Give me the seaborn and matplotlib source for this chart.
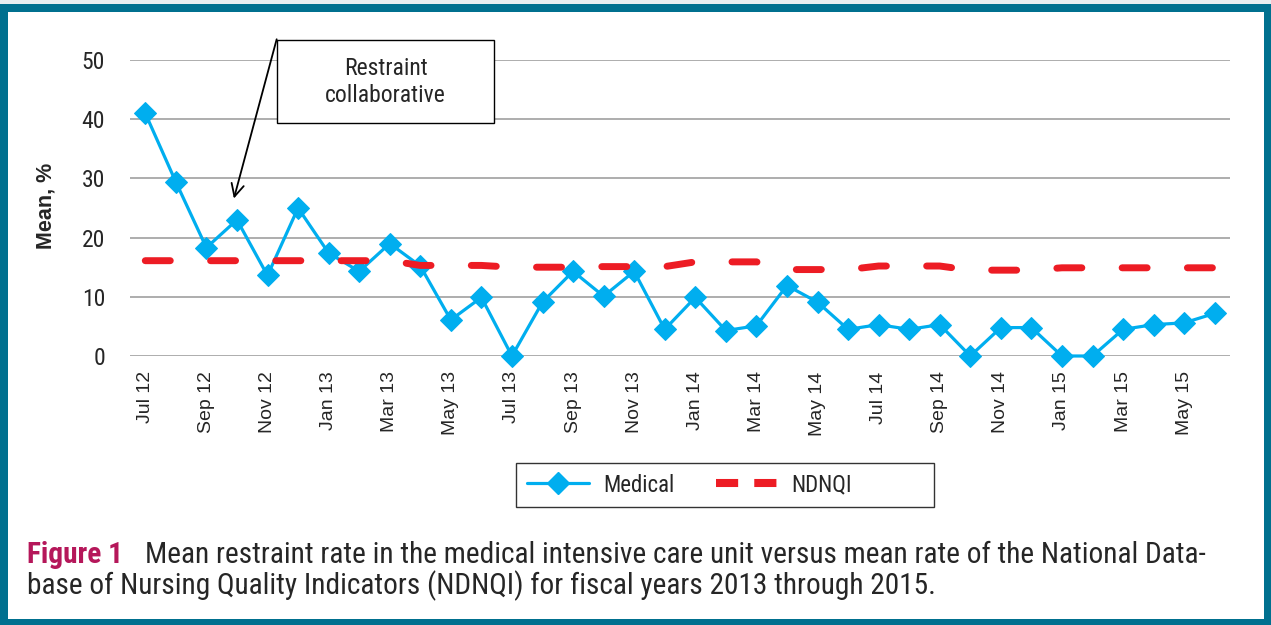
import numpy as np
import pandas as pd
import matplotlib.pyplot as plt
import matplotlib.patches as patches
from matplotlib.lines import Line2D
import seaborn as sns

# monthly data, Jul 2012 - Jun 2015
months = ['Jul 12', 'Aug 12', 'Sep 12', 'Oct 12', 'Nov 12', 'Dec 12',
          'Jan 13', 'Feb 13', 'Mar 13', 'Apr 13', 'May 13', 'Jun 13',
          'Jul 13', 'Aug 13', 'Sep 13', 'Oct 13', 'Nov 13', 'Dec 13',
          'Jan 14', 'Feb 14', 'Mar 14', 'Apr 14', 'May 14', 'Jun 14',
          'Jul 14', 'Aug 14', 'Sep 14', 'Oct 14', 'Nov 14', 'Dec 14',
          'Jan 15', 'Feb 15', 'Mar 15', 'Apr 15', 'May 15', 'Jun 15']
medical = [41.0, 29.4, 18.3, 23.0, 13.6, 25.0,
           17.4, 14.3, 19.0, 15.2, 6.1, 9.9,
           0.0, 9.1, 14.3, 10.1, 14.3, 4.5,
           9.9, 4.3, 5.1, 11.9, 9.1, 4.5,
           5.3, 4.5, 5.3, 0.0, 4.8, 4.8,
           0.0, 0.0, 4.5, 5.3, 5.6, 7.2]
ndnqi = [16.1, 16.1, 16.1, 16.1, 16.1, 16.1,
         16.1, 16.1, 16.1, 15.3, 15.3, 15.3,
         15.0, 15.0, 15.0, 15.1, 15.1, 15.1,
         15.9, 15.9, 15.9, 14.6, 14.6, 14.6,
         15.2, 15.2, 15.2, 14.5, 14.5, 14.5,
         14.9, 14.9, 14.9, 14.9, 14.9, 14.9]
tick_labels = months[::2]
y_ticks = [0, 10, 20, 30, 40, 50]

sns.set_style("white")
narrow = ['Roboto Condensed', 'DejaVu Sans']
plain = ['Liberation Sans', 'DejaVu Sans']
plt.rcParams['font.family'] = narrow

cyan = '#00aeef'
red = '#ed1c24'

df = pd.DataFrame({'month': np.arange(len(months)), 'Medical': medical, 'NDNQI': ndnqi})

W, H = 1271, 625
fig = plt.figure(figsize=(W / 100, H / 100), dpi=100)
fig.patch.set_facecolor('#00708f')
# light strip at top and white inner panel
fig.patches.append(patches.Rectangle((0, 1 - 4 / H), 1, 4 / H, transform=fig.transFigure,
                                     facecolor='#e8edf0', edgecolor='none', zorder=0))
fig.patches.append(patches.Rectangle((8 / W, 1 - 619 / H), (1264 - 8) / W, (619 - 12) / H,
                                     transform=fig.transFigure, facecolor='white',
                                     edgecolor='none', zorder=0))

ax = fig.add_axes([130 / W, 1 - 356 / H, 1100 / W, 296 / H])
ax.set_zorder(1)
ax.set_facecolor('none')

sns.lineplot(data=df, x='month', y='Medical', ax=ax, color=cyan, lw=2.3,
             marker='D', markersize=11, markeredgecolor=cyan, clip_on=False,
             legend=False)
sns.lineplot(data=df, x='month', y='NDNQI', ax=ax, color=red, lw=5,
             linestyle=(0, (3.6, 5.8)), dash_capstyle='round', legend=False)

ax.set_xlim(-0.5, 35.5)
ax.set_ylim(0, 50)
ax.set_yticks(y_ticks)
ax.set_yticklabels([str(v) for v in y_ticks], fontsize=17)
ax.set_xticks(np.arange(0, len(months), 2))
ax.set_xticklabels(tick_labels, rotation=90, fontsize=14, family=plain)
ax.tick_params(axis='y', length=0, pad=18)
ax.tick_params(axis='x', length=0, pad=11)
ax.set_xlabel('')
ax.set_ylabel('')
ax.yaxis.grid(True, color='#a0a0a0', lw=1.2)
ax.xaxis.grid(False)
for s in ax.spines.values():
    s.set_visible(False)

fig.text(46 / W, 1 - 206 / H, 'Mean, %', rotation=90, fontweight='bold', fontsize=15.5,
         family=plain, ha='center', va='center')

# annotation box + arrow
fig.patches.append(patches.Rectangle((277 / W, 1 - 123 / H), 217 / W, 83 / H,
                                     transform=fig.transFigure, facecolor='white',
                                     edgecolor='black', lw=1, zorder=2))
fig.text(385.5 / W, 1 - 82 / H, 'Restraint\ncollaborative', fontsize=17, ha='center',
         va='center', linespacing=1.25, zorder=3)
ax.annotate('', xy=(2.9, 26.6), xytext=(4.3, 53.5), annotation_clip=False,
            arrowprops=dict(arrowstyle='->,head_length=0.9,head_width=0.45', color='black',
                            lw=1.3, shrinkA=0, shrinkB=0))

# legend (frame drawn separately, wider than its content)
fig.patches.append(patches.Rectangle((516 / W, 1 - 507 / H), 418 / W, 44 / H,
                                     transform=fig.transFigure, facecolor='white',
                                     edgecolor='#333333', lw=1, zorder=2))
handles = [Line2D([], [], color=cyan, lw=2.3, marker='D', markersize=11),
           Line2D([], [], color=red, lw=5.8, linestyle=(0, (2.75, 2.0)),
                  dash_capstyle='butt')]
leg = fig.legend(handles, ['Medical', 'NDNQI'], loc='center left',
                 bbox_to_anchor=(516 / W, 1 - 485 / H), ncol=2, frameon=False,
                 fontsize=16.5, handlelength=2.7, columnspacing=1.8, borderpad=0.5,
                 borderaxespad=0, handletextpad=0.6)
leg.set_zorder(3)

# caption
fig.text(27 / W, 1 - 563 / H, 'Figure 1', color='#b5175a', fontweight='bold', fontsize=21.2,
         va='baseline')
fig.text(145 / W, 1 - 563 / H,
         'Mean restraint rate in the medical intensive care unit versus mean rate of the National Data-',
         fontsize=21.2, va='baseline')
fig.text(27 / W, 1 - 594 / H,
         'base of Nursing Quality Indicators (NDNQI) for fiscal years 2013 through 2015.',
         fontsize=21.2, va='baseline')

fig.savefig('out.png', dpi=100, facecolor=fig.get_facecolor())
